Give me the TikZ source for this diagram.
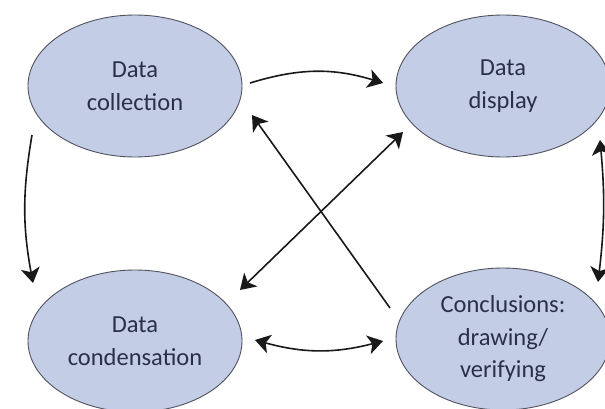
\documentclass[tikz,border=0pt]{standalone}
\usepackage{fontspec}
\setmainfont{Carlito}
\usetikzlibrary{shapes.geometric,arrows.meta}
\definecolor{ellfill}{RGB}{196,205,230}
\definecolor{elldraw}{RGB}{80,83,96}
\definecolor{txtcol}{RGB}{42,48,74}
\definecolor{arrcol}{RGB}{25,25,25}
\begin{document}
\begin{tikzpicture}[x=1pt,y=1pt,
  stage/.style={ellipse, draw=elldraw, line width=0.9pt, fill=ellfill,
    minimum width=214pt, minimum height=142pt, inner sep=0pt, align=center,
    text=txtcol, font=\fontsize{24.5}{32.5}\selectfont},
  flow/.style={draw=arrcol, line width=1.6pt, -{Stealth[length=15pt,width=19pt,inset=4pt]}},
  twoway/.style={flow, {Stealth[length=15pt,width=19pt,inset=4pt]}-{Stealth[length=15pt,width=19pt,inset=4pt]}}
]
\useasboundingbox (0,0) rectangle (605,408);
\clip (0,0) rectangle (605,408);
\fill[white] (0,0) rectangle (605,408);
\node[stage] (coll) at (135,322) {Data\\collection};
\node[stage] (disp) at (503,322) {Data\\display};
\node[stage] (cond) at (135,67) {Data\\condensation};
\node[stage] (conc) at (503,69) {Conclusions:\\drawing/\\verifying};
\draw[flow] ([shift={(115,3)}]coll.center) to[bend left=17] ([shift={(-120,3)}]disp.center);
\draw[flow] ([shift={(-113,31)}]conc.center) -- ([shift={(117,-29)}]coll.center);
\draw[twoway] ([shift={(105,51)}]cond.center) -- ([shift={(-100,-46)}]disp.center);
\draw[flow] ([shift={(-103,-49)}]coll.center) to[bend right=10] ([shift={(-102,58)}]cond.center);
\draw[twoway] ([shift={(120,1)}]cond.center) to[bend right=15] ([shift={(-120,-2)}]conc.center);
\draw[twoway] ([shift={(97,-54)}]disp.center) to[bend left=6] ([shift={(95,57)}]conc.center);
\end{tikzpicture}
\end{document}
